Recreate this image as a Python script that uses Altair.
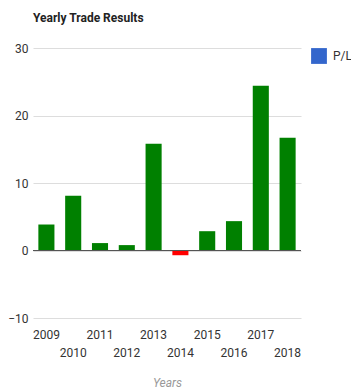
import altair as alt
import pandas as pd

years = ["2009", "2010", "2011", "2012", "2013", "2014", "2015", "2016", "2017", "2018"]
pl = [3.85, 8.1, 1.1, 0.8, 15.8, -0.7, 2.86, 4.35, 24.4, 16.7]
series_name = "P/L"

df = pd.DataFrame({"year": years, "pl": pl})
df["sign"] = ["neg" if v < 0 else "pos" for v in pl]
df["series"] = series_name

FONT = "Roboto"

x_enc = alt.X(
    "year:N",
    sort=years,
    scale=alt.Scale(paddingInner=0.4, paddingOuter=0.2),
    axis=alt.Axis(
        title="Years",
        titleFont=FONT,
        titleFontStyle="italic",
        titleFontWeight="normal",
        titleColor="#999999",
        titleFontSize=12,
        titlePadding=19,
        labelFont=FONT,
        labelAngle=0,
        labelFontSize=12,
        labelColor="#333333",
        labelBaseline="top",
        labelPadding=11,
        labelLineHeight=18,
        labelExpr="toNumber(datum.value) % 2 == 1 ? datum.label : ['', datum.label]",
        ticks=False,
        domain=False,
        grid=False,
    ),
)

y_scale = alt.Scale(domain=[-10, 30], nice=False)
y_axis = alt.Axis(
    title=None,
    values=[-10, 0, 10, 20, 30],
    labelFont=FONT,
    labelFontSize=12,
    labelColor="#333333",
    labelPadding=5,
    ticks=False,
    domain=False,
    grid=True,
    gridColor="#dddddd",
    gridWidth=1,
)

legend_layer = alt.Chart(df).mark_bar().encode(
    x=x_enc,
    y=alt.datum(0, scale=y_scale, axis=y_axis),
    color=alt.Color(
        "series:N",
        scale=alt.Scale(domain=[series_name], range=["#3366cc"]),
        legend=alt.Legend(
            title=None,
            orient="right",
            offset=10,
            symbolType="square",
            symbolSize=250,
            symbolFillColor="#3366cc",
            symbolStrokeWidth=0,
            symbolOpacity=1,
            labelFontSize=12,
            labelColor="#333333",
            labelFont=FONT,
            labelOffset=6,
        ),
    ),
)

bars = alt.Chart(df).mark_bar().encode(
    x=x_enc,
    y=alt.Y("pl:Q", scale=y_scale, axis=y_axis),
    color=alt.Color(
        "sign:N",
        scale=alt.Scale(domain=["pos", "neg"], range=["#008000", "#ff0000"]),
        legend=None,
    ),
)

zero = alt.Chart(df).mark_rule(color="#555555", strokeWidth=1).encode(
    y=alt.datum(0, scale=y_scale)
)

chart = (
    alt.layer(legend_layer, bars, zero)
    .resolve_scale(color="independent")
    .properties(
        width=268,
        height=270,
        background="white",
        autosize=alt.AutoSizeParams(type="none"),
        padding={"left": 25, "top": 40, "right": 50, "bottom": 70},
        title=alt.TitleParams(
            "Yearly Trade Results",
            anchor="start",
            frame="group",
            fontSize=12,
            fontWeight="bold",
            color="#222222",
            font=FONT,
            offset=17,
        ),
    )
    .configure_view(strokeWidth=0, stroke="transparent")
)

chart.save("out.html", embed_options={"renderer": "svg", "actions": False})
